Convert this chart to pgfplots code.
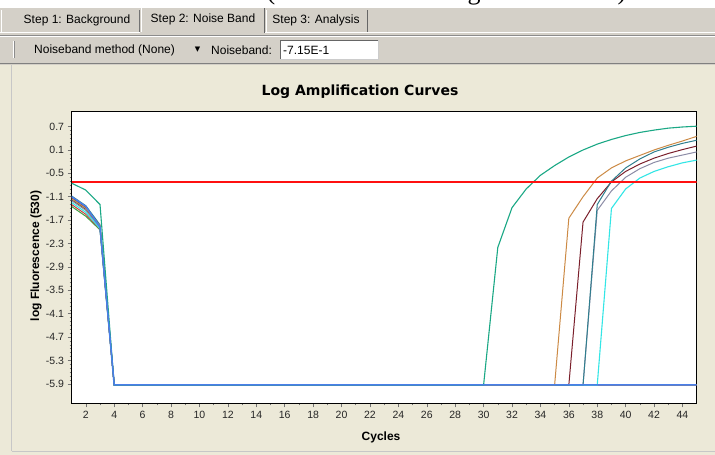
\documentclass[border=0pt]{standalone}
\usepackage{pgfplots}
\usepackage{pgfplotstable}
\pgfplotsset{compat=1.18}
\usepackage{fontspec}
\setmainfont{Liberation Sans}
\newfontfamily\titlefont{DejaVu Sans}
\newfontfamily\symfont{DejaVu Sans}
\newfontfamily\capfont{Liberation Serif}
\definecolor{panel}{HTML}{ECE9D8}
\definecolor{tabgray}{HTML}{D4D0C8}
\definecolor{cteal}{HTML}{1AA885}
\definecolor{corange}{HTML}{CC8A45}
\definecolor{cdteal}{HTML}{2F7E8E}
\definecolor{cmaroon}{HTML}{7A1F2B}
\definecolor{cgray}{HTML}{8C8CA6}
\definecolor{ccyan}{HTML}{33E6E6}
\definecolor{cblue}{HTML}{4A7FEA}
\definecolor{cgreen}{HTML}{40A040}
\definecolor{cred}{HTML}{D04040}
\definecolor{cdark}{HTML}{404048}
\definecolor{noiseline}{HTML}{FF1010}

\pgfplotstableread{
c teal orange dteal maroon gray cyan blue green redc dark
1 -0.75 -1.15 -1.08 -1.12 -1.20 -1.25 -1.10 -1.35 -1.30 -1.18
2 -0.93 -1.40 -1.33 -1.38 -1.45 -1.50 -1.35 -1.60 -1.55 -1.42
3 -1.30 -1.85 -1.82 -1.86 -1.90 -1.92 -1.88 -1.95 -1.93 -1.87
4 -5.93 -5.93 -5.93 -5.93 -5.93 -5.93 -5.93 -5.93 -5.93 -5.93
5 -5.93 -5.93 -5.93 -5.93 -5.93 -5.93 -5.93 -5.93 -5.93 -5.93
10 -5.93 -5.93 -5.93 -5.93 -5.93 -5.93 -5.93 -5.93 -5.93 -5.93
15 -5.93 -5.93 -5.93 -5.93 -5.93 -5.93 -5.93 -5.93 -5.93 -5.93
20 -5.93 -5.93 -5.93 -5.93 -5.93 -5.93 -5.93 -5.93 -5.93 -5.93
25 -5.93 -5.93 -5.93 -5.93 -5.93 -5.93 -5.93 -5.93 -5.93 -5.93
30 -5.93 -5.93 -5.93 -5.93 -5.93 -5.93 -5.93 -5.93 -5.93 -5.93
31 -2.40 -5.93 -5.93 -5.93 -5.93 -5.93 -5.93 -5.93 -5.93 -5.93
32 -1.38 -5.93 -5.93 -5.93 -5.93 -5.93 -5.93 -5.93 -5.93 -5.93
33 -0.90 -5.93 -5.93 -5.93 -5.93 -5.93 -5.93 -5.93 -5.93 -5.93
34 -0.55 -5.93 -5.93 -5.93 -5.93 -5.93 -5.93 -5.93 -5.93 -5.93
35 -0.30 -5.93 -5.93 -5.93 -5.93 -5.93 -5.93 -5.93 -5.93 -5.93
36 -0.08 -1.65 -5.93 -5.93 -5.93 -5.93 -5.93 -5.93 -5.93 -5.93
37 0.10 -1.10 -5.93 -1.75 -5.93 -5.93 -5.93 -5.93 -5.93 -5.93
38 0.25 -0.62 -1.30 -1.15 -1.45 -5.93 -5.93 -5.93 -5.93 -5.93
39 0.37 -0.36 -0.70 -0.72 -0.95 -1.40 -5.93 -5.93 -5.93 -5.93
40 0.47 -0.18 -0.36 -0.45 -0.60 -0.90 -5.93 -5.93 -5.93 -5.93
41 0.55 -0.04 -0.13 -0.26 -0.38 -0.62 -5.93 -5.93 -5.93 -5.93
42 0.61 0.10 0.05 -0.11 -0.22 -0.45 -5.93 -5.93 -5.93 -5.93
43 0.66 0.22 0.17 0.01 -0.11 -0.33 -5.93 -5.93 -5.93 -5.93
44 0.69 0.33 0.27 0.11 -0.03 -0.23 -5.93 -5.93 -5.93 -5.93
45 0.71 0.45 0.35 0.20 0.05 -0.16 -5.93 -5.93 -5.93 -5.93
}\curves

\pgfplotstableread{
c nb
1 -0.715
45 -0.715
}\noiseband

\begin{document}
\begin{tikzpicture}[x=1pt,y=1pt]
\useasboundingbox (0,0) rectangle (715,455);
% backgrounds
\fill[white] (0,446.7) rectangle (715,455);
\fill[tabgray] (0,390) rectangle (715,446.7);
\fill[panel] (0,0) rectangle (715,390);
% cut-off caption fragments
\begin{scope}
\clip (0,446.7) rectangle (715,455);
\node[anchor=base, font=\capfont\fontsize{26}{26}\selectfont, inner sep=0pt] at (271,455) {(};
\node[anchor=base, font=\capfont\fontsize{26}{26}\selectfont, inner sep=0pt] at (474,455) {g};
\node[anchor=base, font=\capfont\fontsize{26}{26}\selectfont, inner sep=0pt] at (622,455) {)};
\end{scope}
% tab strip lines
\draw[white, line width=1pt] (0,422.5) -- (140,422.5);
\draw[white, line width=1pt] (265,422.5) -- (715,422.5);
\draw[black!45, line width=1pt] (0,419.5) -- (715,419.5);
\draw[white, line width=0.6pt] (0,418.6) -- (715,418.6);
% tabs
\draw[white, line width=0.8pt] (1,422.5) -- (1,445);
\draw[black!55, line width=0.8pt] (139,423) -- (139,445);
\draw[white, line width=0.8pt] (141,422.5) -- (141,447);
\draw[black!60, line width=1pt] (264,422) -- (264,447);
\draw[white, line width=0.8pt] (266,422.5) -- (266,445);
\draw[black!60, line width=1pt] (367,423) -- (367,445);
\begin{scope}[every node/.style={font=\fontsize{12}{12}\selectfont, inner sep=0pt, text=black}]
\node at (77,434.5) {Step 1: Background};
\node at (203,435.5) {Step 2: Noise Band};
\node at (316,434.5) {Step 3: Analysis};
% toolbar
\draw[white, line width=0.8pt] (13,397) -- (13,414);
\draw[black!45, line width=0.8pt] (14.2,397) -- (14.2,414);
\node[anchor=west] at (34,405) {Noiseband method (None)};
\node at (197.5,405) {\symfont\fontsize{7}{7}\selectfont ▼};
\node[anchor=west] at (211,405) {Noiseband:};
\fill[white] (280,396) rectangle (378.5,415);
\draw[black!60, line width=0.8pt] (280,396) -- (280,415) -- (378.5,415);
\draw[black!20, line width=0.6pt] (280,396) -- (378.5,396) -- (378.5,415);
\node[anchor=west] at (283,405) {-7.15E-1};
\end{scope}
\draw[black!50, line width=1pt] (0,391) -- (715,391);
% panel borders
\draw[black!22, line width=0.8pt] (11.7,4) -- (11.7,389.5);
\draw[black!22, line width=0.8pt] (11.7,4) -- (715,4);
% title
\node[font=\titlefont\bfseries\fontsize{14}{14}\selectfont, text=black] at (360,363) {Log Amplification Curves};

\begin{axis}[
  at={(71.6pt,51.7pt)}, anchor=south west,
  width=625.1pt, height=292.3pt, scale only axis,
  xmin=1, xmax=45, ymin=-6.4, ymax=1.1,
  axis background/.style={fill=white},
  axis line style={black, line width=0.9pt},
  xtick={2,4,...,44},
  ytick={0.7,0.1,-0.5,-1.1,-1.7,-2.3,-2.9,-3.5,-4.1,-4.7,-5.3,-5.9},
  minor x tick num=1, minor y tick num=5,
  tick align=outside, tick pos=left,
  major tick length=4pt, minor tick length=2pt,
  every tick/.style={black!55, line width=0.5pt},
  ticklabel style={font=\fontsize{10.5}{11}\selectfont, text=black!85},
  /pgf/number format/assume math mode=true,
  yticklabel style={/pgf/number format/fixed, /pgf/number format/precision=1, /pgf/number format/fixed zerofill},
  xlabel={Cycles}, ylabel={log Fluorescence (530)},
  xlabel style={font=\bfseries\fontsize{12}{12}\selectfont, at={(axis description cs:0.495,-0.115)}, anchor=center},
  ylabel style={font=\bfseries\fontsize{12}{12}\selectfont, at={(axis description cs:-0.057,0.504)}, anchor=center, rotate=0},
  clip=true,
]
\addplot[draw=cgreen, line width=1pt] table[x=c, y=green] {\curves};
\addplot[draw=cred, line width=1pt] table[x=c, y=redc] {\curves};
\addplot[draw=cdark, line width=1pt] table[x=c, y=dark] {\curves};
\addplot[draw=cgray, line width=1pt] table[x=c, y=gray] {\curves};
\addplot[draw=ccyan, line width=1.1pt] table[x=c, y=cyan] {\curves};
\addplot[draw=cmaroon, line width=1pt] table[x=c, y=maroon] {\curves};
\addplot[draw=cdteal, line width=1pt] table[x=c, y=dteal] {\curves};
\addplot[draw=corange, line width=1pt] table[x=c, y=orange] {\curves};
\addplot[draw=cteal, line width=1.1pt] table[x=c, y=teal] {\curves};
\addplot[draw=cblue, line width=1.5pt] table[x=c, y=blue] {\curves};
\addplot[draw=noiseline, line width=2pt] table[x=c, y=nb] {\noiseband};
\end{axis}
\end{tikzpicture}
\end{document}
